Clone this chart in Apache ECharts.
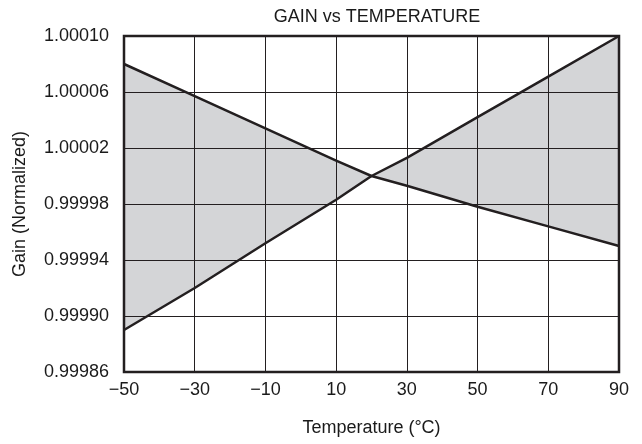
<!DOCTYPE html>
<html>
<head>
<meta charset="utf-8">
<script src="https://cdn.jsdelivr.net/npm/echarts@6/dist/echarts.min.js"></script>
<style>html,body{margin:0;padding:0;background:#fff}#c{width:642px;height:444px}</style>
</head>
<body>
<div id="c"></div>
<script>
var temps = [-50, -30, -10, 10, 20, 30, 50, 70, 90];
var gainA = [1.00008, 1.000057, 1.000034, 1.000011, 1.0, 0.999993, 0.999978, 0.999964, 0.99995];
var gainB = [0.99989, 0.99992, 0.999952, 0.999983, 1.0, 1.000013, 1.000042, 1.000071, 1.0001];
var xTicks = [-50, -30, -10, 10, 30, 50, 70, 90];
var yTicks = [0.99986, 0.99990, 0.99994, 0.99998, 1.00002, 1.00006, 1.00010];

var FONT = 'Liberation Sans, Arial, sans-serif';
var dataA = temps.map(function (t, i) { return [t, gainA[i]]; });
var dataB = temps.map(function (t, i) { return [t, gainB[i]]; });

var chart = echarts.init(document.getElementById('c'), null, { renderer: 'canvas' });
chart.setOption({
  animation: false,
  backgroundColor: '#fff',
  title: {
    text: 'GAIN vs TEMPERATURE',
    left: 372, top: 3, textAlign: 'center',
    textStyle: { fontFamily: FONT, fontSize: 18, fontWeight: 'normal', color: '#1a1a1a' }
  },
  grid: { left: 124, right: 23, top: 36, bottom: 72, show: true, borderColor: '#231f20', borderWidth: 2.5, backgroundColor: 'transparent' },
  xAxis: {
    type: 'value', min: xTicks[0], max: xTicks[xTicks.length - 1], interval: 20,
    name: 'Temperature (\u00B0C)', nameLocation: 'middle', nameGap: 47,
    nameTextStyle: { fontFamily: FONT, fontSize: 18, color: '#1a1a1a' },
    axisLine: { show: false }, axisTick: { show: false },
    axisLabel: { fontFamily: FONT, fontSize: 18, color: '#1a1a1a', margin: 9,
      formatter: function (v) { return String(v).replace('-', '\u2212'); } },
    splitLine: { show: true, lineStyle: { color: '#231f20', width: 1 } }
  },
  yAxis: {
    type: 'value', min: yTicks[0], max: yTicks[yTicks.length - 1], interval: 0.00004,
    name: 'Gain (Normalized)', nameLocation: 'middle', nameGap: 95,
    nameTextStyle: { fontFamily: FONT, fontSize: 18, color: '#1a1a1a' },
    axisLine: { show: false }, axisTick: { show: false },
    axisLabel: { fontFamily: FONT, fontSize: 18, color: '#1a1a1a', margin: 15, padding: [6, 0, 0, 0],
      formatter: function (v) { return v.toFixed(5); } },
    splitLine: { show: true, lineStyle: { color: '#231f20', width: 1 } }
  },
  series: [
    {
      type: 'custom', z: -1, silent: true,
      data: [0],
      renderItem: function (params, api) {
        var pts = [];
        for (var i = 0; i < dataA.length; i++) pts.push(api.coord(dataA[i]));
        for (var j = dataB.length - 1; j >= 0; j--) pts.push(api.coord(dataB[j]));
        return { type: 'polygon', shape: { points: pts }, style: { fill: '#d4d5d7', stroke: null } };
      }
    },
    {
      type: 'line', data: dataA, z: 3, symbol: 'none',
      lineStyle: { color: '#231f20', width: 2.5 }
    },
    {
      type: 'line', data: dataB, z: 3, symbol: 'none',
      lineStyle: { color: '#231f20', width: 2.5 }
    }
  ]
});
</script>
</body>
</html>
